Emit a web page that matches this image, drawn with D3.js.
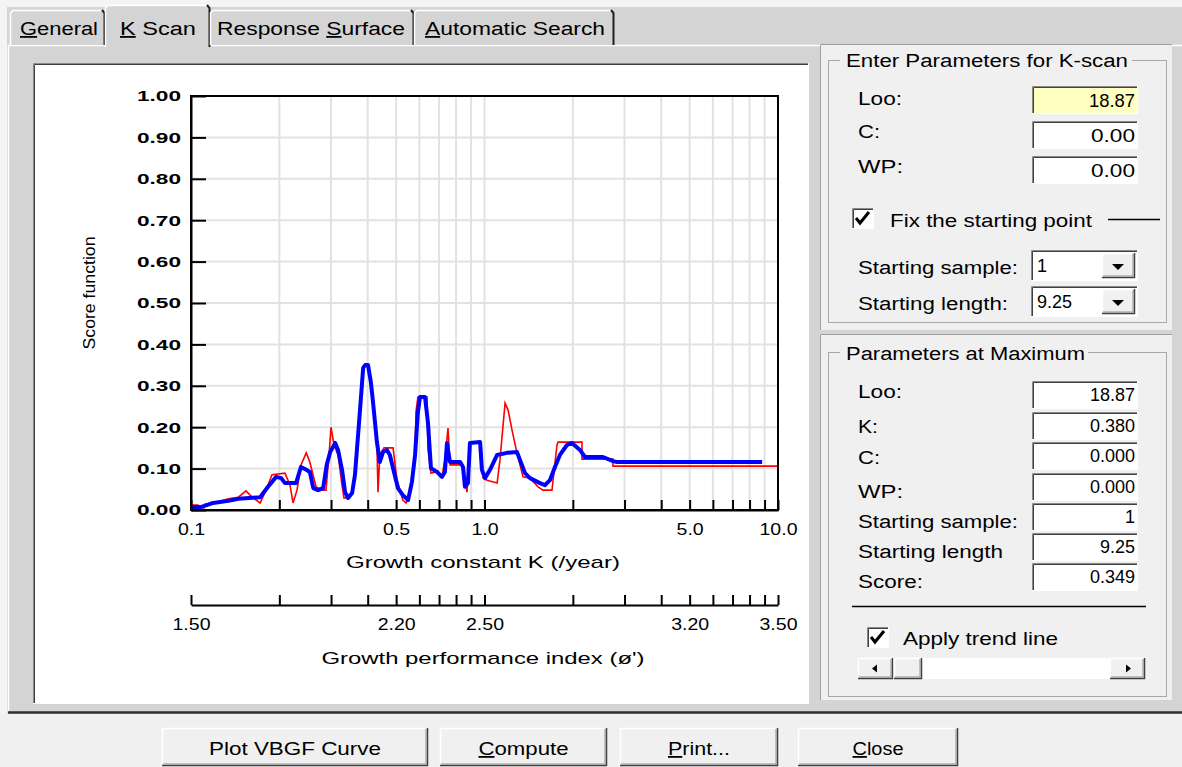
<!DOCTYPE html>
<html><head><meta charset="utf-8">
<script src="https://cdn.jsdelivr.net/npm/d3@7"></script>
<style>
body{margin:0;background:#d4d4d4;}
svg{display:block;font-family:"Liberation Sans",Arial,sans-serif;}
</style>
</head><body>
<svg id="c" width="1182" height="767"></svg>
<script>
// ---------------- data ----------------
const kBlue = [0.100,0.108,0.119,0.134,0.145,0.172,0.183,0.195,0.203,0.209,0.228,0.237,0.247,0.254,0.261,0.271,0.282,0.290,0.298,0.310,0.317,0.327,0.335,0.343,0.354,0.362,0.368,0.377,0.386,0.392,0.401,0.410,0.417,0.430,0.440,0.451,0.465,0.476,0.488,0.507,0.527,0.549,0.566,0.580,0.593,0.603,0.627,0.642,0.657,0.689,0.716,0.733,0.745,0.751,0.763,0.826,0.845,0.858,0.878,0.892,0.966,0.980,1.004,1.044,1.104,1.193,1.290,1.321,1.374,1.429,1.545,1.607,1.671,1.738,1.807,1.910,1.986,2.115,2.199,2.533,2.740,2.827,8.83];
const scoreBlue = [0.007,0.007,0.017,0.022,0.027,0.031,0.056,0.080,0.077,0.065,0.065,0.104,0.097,0.092,0.053,0.048,0.053,0.109,0.140,0.162,0.145,0.097,0.043,0.029,0.041,0.085,0.150,0.246,0.343,0.350,0.350,0.309,0.261,0.164,0.116,0.140,0.145,0.133,0.101,0.053,0.036,0.024,0.068,0.133,0.237,0.273,0.273,0.210,0.101,0.092,0.080,0.092,0.162,0.145,0.116,0.116,0.104,0.056,0.065,0.162,0.164,0.097,0.077,0.097,0.133,0.138,0.140,0.121,0.089,0.077,0.065,0.060,0.072,0.104,0.133,0.157,0.162,0.145,0.128,0.128,0.118,0.116,0.116];
const kRed = [0.100,0.1056,0.1073,0.1099,0.1116,0.119,0.134,0.145,0.1539,0.1614,0.172,0.1801,0.1888,0.209,0.2175,0.2226,0.2297,0.237,0.247,0.254,0.2667,0.2795,0.2884,0.2953,0.2999,0.3071,0.317,0.327,0.3321,0.3481,0.354,0.362,0.377,0.386,0.401,0.410,0.417,0.430,0.4337,0.440,0.4546,0.488,0.5033,0.527,0.5401,0.5574,0.566,0.580,0.5842,0.593,0.6371,0.642,0.657,0.689,0.716,0.733,0.751,0.763,0.8382,0.8718,0.892,0.9729,0.9883,1.020,1.104,1.129,1.175,1.203,1.241,1.290,1.353,1.429,1.522,1.582,1.698,1.766,1.780,2.149,2.149,2.740,2.740,10.0];
const scoreRed = [0.012,0.012,0.000,0.000,0.014,0.017,0.027,0.031,0.046,0.031,0.017,0.048,0.085,0.089,0.060,0.017,0.048,0.109,0.138,0.116,0.056,0.048,0.048,0.133,0.200,0.157,0.133,0.060,0.029,0.031,0.048,0.085,0.242,0.348,0.350,0.309,0.266,0.157,0.043,0.133,0.150,0.150,0.072,0.024,0.017,0.036,0.068,0.133,0.237,0.273,0.273,0.145,0.089,0.092,0.080,0.121,0.198,0.109,0.109,0.043,0.162,0.162,0.077,0.072,0.065,0.121,0.258,0.242,0.193,0.138,0.080,0.077,0.056,0.048,0.048,0.157,0.164,0.164,0.123,0.123,0.106,0.106];

const yTicks = [0,0.1,0.2,0.3,0.4,0.5,0.6,0.7,0.8,0.9,1.0];
const yTickLabels = ["0.00","0.10","0.20","0.30","0.40","0.50","0.60","0.70","0.80","0.90","1.00"];
const kTicks = [0.1,0.2,0.3,0.4,0.5,0.6,0.7,0.8,0.9,1,2,3,4,5,6,7,8,9,10];
const kLabelTicks = [0.1,0.5,1,5,10];
const kLabels = ["0.1","0.5","1.0","5.0","10.0"];
const phiLabels = ["1.50","2.20","2.50","3.20","3.50"];

const tabNames = ["General","K Scan","Response Surface","Automatic Search"];
const tabUnderline = [0,0,9,0];
const enterLabels = ["Loo:","C:","WP:"];
const enterValues = ["18.87","0.00","0.00"];
const comboLabels = ["Starting sample:","Starting length:"];
const comboValues = ["1","9.25"];
const maxLabels = ["Loo:","K:","C:","WP:","Starting sample:","Starting length","Score:"];
const maxValues = ["18.87","0.380","0.000","0.000","1","9.25","0.349"];
const buttonNames = ["Plot VBGF Curve","Compute","Print...","Close"];
const buttonUnderline = [null,0,0,0];

// ---------------- helpers ----------------
const svg = d3.select("#c");
function txt(g,x,y,s,o={}){
  const t=g.append("text").attr("x",x).attr("y",y).attr("font-size",o.size||18)
    .attr("fill",o.fill||"#000").attr("text-anchor",o.anchor||"start");
  if(o.weight) t.attr("font-weight",o.weight);
  if(o.u!=null){
    t.append("tspan").text(s.slice(0,o.u));
    t.append("tspan").attr("text-decoration","underline").text(s[o.u]);
    t.append("tspan").text(s.slice(o.u+1));
  } else t.text(s);
  if(o.w) t.attr("textLength",o.w).attr("lengthAdjust","spacingAndGlyphs");
  return t;
}
function line(g,d,c,w){g.append("path").attr("d",d).attr("stroke",c).attr("stroke-width",w||1).attr("fill","none");}
function sunken(g,x,y,w,h,fill){
  g.append("rect").attr("x",x).attr("y",y).attr("width",w).attr("height",h).attr("fill",fill);
  line(g,`M${x+0.5},${y+h}V${y+0.5}H${x+w}`,"#8a8a8a",1);
  line(g,`M${x+1.5},${y+h-1}V${y+1.5}H${x+w-1}`,"#404040",1);
  line(g,`M${x},${y+h-0.5}H${x+w-0.5}V${y}`,"#ffffff",1);
}
function raised(g,x,y,w,h,fill){
  g.append("rect").attr("x",x).attr("y",y).attr("width",w).attr("height",h).attr("fill",fill);
  line(g,`M${x+0.5},${y+h}V${y+0.5}H${x+w}`,"#ffffff",1.5);
  line(g,`M${x},${y+h-0.5}H${x+w-0.5}V${y}`,"#404040",1.5);
  line(g,`M${x+1},${y+h-2}H${x+w-2}V${y+1}`,"#909090",1);
}

// ---------------- window chrome ----------------
svg.append("rect").attr("width",1182).attr("height",767).attr("fill","#d4d4d4");
svg.append("rect").attr("x",0).attr("y",0).attr("width",1182).attr("height",7).attr("fill","#f4f4f4");
svg.append("rect").attr("x",0).attr("y",0).attr("width",7).attr("height",714).attr("fill","#f4f4f4");
// body top edge
line(svg,"M8,45.5H1182","#ffffff",1.5);
line(svg,"M8.5,45V712","#ffffff",1.5);

// tabs
const tabX=[[10,105],[105,210],[210,414],[414,614]];
const tabTextX=[20,120,217,425];
const tabTextW=[78,76,188,180];
tabNames.forEach((n,i)=>{
  const sel = i===1;
  const [x0,x1]=tabX[i]; const top = sel?5:10; const bot = sel?47:45;
  const g=svg.append("g");
  g.append("path").attr("d",`M${x0},${bot}V${top+3}L${x0+3},${top}H${x1-3}L${x1},${top+3}V${bot}Z`).attr("fill","#d4d4d4");
  line(g,`M${x0+0.5},${bot}V${top+3}L${x0+3},${top+0.5}H${x1-3}`,"#ffffff",1.5);
  line(g,`M${x1-3},${top}L${x1-0.5},${top+3}V${bot}`,"#202020",2);
  txt(g,tabTextX[i],35,n,{size:18,u:tabUnderline[i],w:tabTextW[i]});
});

// chart white area
sunken(svg,33,63,776,641,"#ffffff");

// ---------------- chart ----------------
const x = d3.scaleLog().domain([0.1,10]).range([191,778]);
const y = d3.scaleLinear().domain([0,1]).range([510,96]);
const plot = svg.append("g");
// gridlines
plot.selectAll(".vg").data(kTicks.slice(1,-1)).join("line")
  .attr("x1",d=>x(d)).attr("x2",d=>x(d)).attr("y1",y(1)).attr("y2",y(0))
  .attr("stroke","#e2e2e2").attr("stroke-width",2);
plot.selectAll(".hg").data(yTicks.slice(1,-1)).join("line")
  .attr("x1",x(0.1)).attr("x2",x(10)).attr("y1",d=>y(d)).attr("y2",d=>y(d))
  .attr("stroke","#e2e2e2").attr("stroke-width",2);

// series
const ln = d3.line().x(d=>x(d[0])).y(d=>y(d[1]));
plot.append("path").datum(kRed.map((k,i)=>[k,scoreRed[i]])).attr("d",ln)
  .attr("fill","none").attr("stroke","#ff0000").attr("stroke-width",1.6).attr("stroke-linejoin","miter");
plot.append("path").datum(kBlue.map((k,i)=>[k,scoreBlue[i]])).attr("d",ln)
  .attr("fill","none").attr("stroke","#0000ff").attr("stroke-width",4).attr("stroke-linejoin","round");

// frame
plot.append("rect").attr("x",x(0.1)).attr("y",y(1)).attr("width",x(10)-x(0.1)).attr("height",y(0)-y(1))
  .attr("fill","none").attr("stroke","#000").attr("stroke-width",2);

// y axis
const yAxis = d3.axisLeft(y).tickValues(yTicks).tickFormat((d,i)=>yTickLabels[i]).tickSizeInner(-15).tickSizeOuter(0).tickPadding(10);
const ya = plot.append("g").attr("transform",`translate(${x(0.1)},0)`).call(yAxis);
ya.select(".domain").attr("stroke","#000").attr("stroke-width",2);
ya.selectAll(".tick line").attr("stroke","#000").attr("stroke-width",2);
ya.selectAll(".tick text").attr("font-family",'"Liberation Sans",Arial,sans-serif').attr("font-size",15).attr("font-weight","bold").attr("fill","#000")
  .attr("textLength",44).attr("lengthAdjust","spacingAndGlyphs");

// K axis
const kAxis = d3.axisBottom(x).tickValues(kTicks).tickFormat(d=>{const j=kLabelTicks.indexOf(d);return j<0?"":kLabels[j];}).tickSizeInner(-10).tickSizeOuter(0).tickPadding(14);
const ka = plot.append("g").attr("transform",`translate(0,${y(0)})`).call(kAxis);
ka.select(".domain").attr("stroke","#000").attr("stroke-width",2);
ka.selectAll(".tick line").attr("stroke","#000").attr("stroke-width",2);
ka.selectAll(".tick text").attr("font-family",'"Liberation Sans",Arial,sans-serif').attr("font-size",16).attr("fill","#000")
  .each(function(){const t=d3.select(this); if(t.text()){const L=this.getComputedTextLength(); t.attr("textLength",L*1.22).attr("lengthAdjust","spacingAndGlyphs");}});

// phi' axis
const pAxis = d3.axisBottom(x).tickValues(kTicks).tickFormat(d=>{const j=kLabelTicks.indexOf(d);return j<0?"":phiLabels[j];}).tickSizeInner(-10).tickSizeOuter(0).tickPadding(14);
const pa = plot.append("g").attr("transform",`translate(0,605)`).call(pAxis);
pa.select(".domain").attr("stroke","#000").attr("stroke-width",2);
pa.selectAll(".tick line").attr("stroke","#000").attr("stroke-width",2);
pa.selectAll(".tick text").attr("font-family",'"Liberation Sans",Arial,sans-serif').attr("font-size",16).attr("fill","#000")
  .each(function(){const t=d3.select(this); if(t.text()){const L=this.getComputedTextLength(); t.attr("textLength",L*1.22).attr("lengthAdjust","spacingAndGlyphs");}});

// titles
txt(plot,483,568,"Growth constant K (/year)",{size:17,anchor:"middle",w:274});
txt(plot,483,664,"Growth performance index (ø')",{size:17,anchor:"middle",w:323});
txt(plot,0,0,"Score function",{size:16,anchor:"middle",w:113}).attr("transform","translate(95,293) rotate(-90)");

// ---------------- right panel 1 ----------------
const p1=svg.append("g");
p1.append("rect").attr("x",820).attr("y",44).attr("width",352).attr("height",286).attr("fill","#f0f0f0");
line(p1,"M820.5,330V44.5H1172","#a0a0a0",1);
p1.append("rect").attr("x",828.5).attr("y",60.5).attr("width",338).attr("height",262).attr("fill","none").attr("stroke","#a8a8a8");
p1.append("rect").attr("x",840).attr("y",50).attr("width",292).attr("height",20).attr("fill","#f0f0f0");
txt(p1,846,67,"Enter Parameters for K-scan",{size:18,w:282});
const eY=[86,121,156], eLY=[105,138,173];
enterLabels.forEach((l,i)=>{
  txt(p1,858,eLY[i],l,{size:18,w:[44,22,45][i]});
  sunken(p1,1032,eY[i],106,28,i===0?"#ffffc0":"#ffffff");
  txt(p1,1135,eY[i]+21,enterValues[i],{size:18,anchor:"end",w:[46,44,44][i]});
});
// checkbox
sunken(p1,852,208,22,21,"#ffffff");
p1.append("path").attr("d","M856,218 L860,223 L869,212").attr("stroke","#000").attr("stroke-width",3).attr("fill","none");
txt(p1,890,227,"Fix the starting point",{size:19,w:202});
line(p1,"M1108,219.5H1160","#000",1.5);
const cY=[250,286], cLY=[274,310];
comboLabels.forEach((l,i)=>{
  txt(p1,858,cLY[i],l,{size:18,w:[160,150][i]});
  sunken(p1,1031,cY[i],107,31,"#ffffff");
  txt(p1,1037,cY[i]+22,comboValues[i],{size:18});
  raised(p1,1102,cY[i]+3,33,25,"#f0f0f0");
  p1.append("path").attr("d",`M${1112},${cY[i]+14}h12l-6,6z`).attr("fill","#000");
});

// ---------------- right panel 2 ----------------
const p2=svg.append("g");
p2.append("rect").attr("x",820).attr("y",334).attr("width",352).attr("height",366).attr("fill","#f0f0f0");
line(p2,"M820.5,700V334.5H1172","#a0a0a0",1);
p2.append("rect").attr("x",828.5).attr("y",352.5).attr("width",338).attr("height",344).attr("fill","none").attr("stroke","#a8a8a8");
p2.append("rect").attr("x",840).attr("y",340).attr("width",248).attr("height",22).attr("fill","#f0f0f0");
txt(p2,846,360,"Parameters at Maximum",{size:18,w:239});
const mY=[381,412,442,473,503,533,563], mLY=[398,433,464,498,528,558,588];
const mLW=[44,20,22,45,160,145,65];
maxLabels.forEach((l,i)=>{
  txt(p2,858,mLY[i],l,{size:18,w:mLW[i]});
  sunken(p2,1032,mY[i],106,28,"#ffffff");
  txt(p2,1135,mY[i]+20,maxValues[i],{size:18,anchor:"end"});
});
line(p2,"M852,606.5H1146","#000",1.5);
sunken(p2,867,627,22,21,"#ffffff");
p2.append("path").attr("d","M871,637 L875,642 L884,631").attr("stroke","#000").attr("stroke-width",3).attr("fill","none");
txt(p2,903,645,"Apply trend line",{size:19,w:155});
// scrollbar
p2.append("rect").attr("x",858).attr("y",658).attr("width",287).attr("height",21).attr("fill","#ffffff");
raised(p2,858,658,35,21,"#f0f0f0");
raised(p2,894,658,28,21,"#f0f0f0");
raised(p2,1110,658,35,21,"#f0f0f0");
p2.append("path").attr("d","M872,668.5l5,-4v8z").attr("fill","#000");
p2.append("path").attr("d","M1131,668.5l-5,-4v8z").attr("fill","#000");

// ---------------- bottom ----------------
svg.append("rect").attr("x",0).attr("y",713).attr("width",1182).attr("height",54).attr("fill","#f0f0f0");
line(svg,"M8,712.5H1182","#303030",2.5);
const bX=[[162,266],[440,167],[620,158],[798,160]];
const bW=[172,90,62,51];
buttonNames.forEach((n,i)=>{
  const g=svg.append("g");
  raised(g,bX[i][0],728,bX[i][1],38,"#f0f0f0");
  txt(g,bX[i][0]+bX[i][1]/2,755,n,{size:18,anchor:"middle",u:buttonUnderline[i],w:bW[i]});
});
</script>
</body></html>
